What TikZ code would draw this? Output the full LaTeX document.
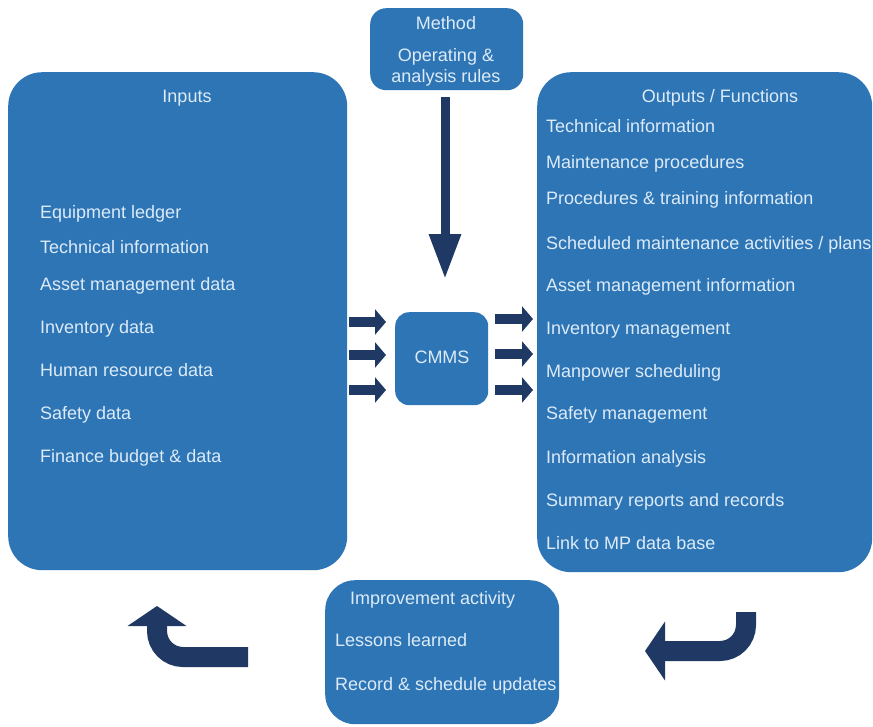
\documentclass[tikz,border=0pt]{standalone}
\usepackage{fontspec}
\setmainfont{Liberation Sans}
\usetikzlibrary{arrows.meta}
\definecolor{boxblue}{HTML}{2E75B6}
\definecolor{navy}{HTML}{1F3864}
\definecolor{txt}{HTML}{DCEBF7}
\begin{document}
\begin{tikzpicture}[x=1pt,y=-1pt,
  box/.style={fill=boxblue, draw=none, inner sep=0pt, anchor=north west},
  lbl/.style={text=txt, font=\fontsize{18}{20}\selectfont, inner sep=0pt, anchor=base west},
  ttl/.style={lbl, anchor=base},
  smallarrow/.style={draw=navy, line width=10pt, -{Triangle[length=11pt,width=25pt]}},
  bigarrow/.style={draw=navy, line width=20pt, rounded corners=26pt, -{Triangle[length=20pt,width=58pt]}},
  downarrow/.style={draw=navy, line width=9pt, -{Triangle[length=45pt,width=30pt]}}]
\useasboundingbox[fill=white] (0,0) rectangle (873,726);

% boxes
\node[box, rounded corners=34pt, minimum width=339pt, minimum height=498pt] (inputs) at (8,72) {};
\node[box, rounded corners=34pt, minimum width=335pt, minimum height=500pt] (outputs) at (537,72) {};
\node[box, rounded corners=16pt, minimum width=153pt, minimum height=82pt] (method) at (370,8) {};
\node[box, rounded corners=14pt, minimum width=93pt, minimum height=93pt] (cmms) at (395,312) {};
\node[box, rounded corners=30pt, minimum width=234pt, minimum height=144pt] (improve) at (325,580) {};

% inputs text
\node[ttl] (inT) at (187,102) {Inputs};
\node[lbl] (in1) at (40,218) {Equipment ledger};
\node[lbl] (in2) at (40,253) {Technical information};
\node[lbl] (in3) at (40,290) {Asset management data};
\node[lbl] (in4) at (40,333) {Inventory data};
\node[lbl] (in5) at (40,376) {Human resource data};
\node[lbl] (in6) at (40,419) {Safety data};
\node[lbl] (in7) at (40,462) {Finance budget \& data};

% outputs text
\node[ttl] (outT) at (720,102) {Outputs / Functions};
\node[lbl] (o1) at (546,132) {Technical information};
\node[lbl] (o2) at (546,168) {Maintenance procedures};
\node[lbl] (o3) at (546,204) {Procedures \& training information};
\node[lbl] (o4) at (546,249) {Scheduled maintenance activities / plans};
\node[lbl] (o5) at (546,291) {Asset management information};
\node[lbl] (o6) at (546,334) {Inventory management};
\node[lbl] (o7) at (546,377) {Manpower scheduling};
\node[lbl] (o8) at (546,419) {Safety management};
\node[lbl] (o9) at (546,463) {Information analysis};
\node[lbl] (o10) at (546,506) {Summary reports and records};
\node[lbl] (o11) at (546,549) {Link to MP data base};

% method text
\node[ttl] (m1) at (446,29) {Method};
\node[ttl] (m2) at (446,61) {Operating \&};
\node[ttl] (m3) at (446,82) {analysis rules};

% cmms text
\node[ttl] (c1) at (442,363) {CMMS};

% improvement text
\node[lbl] (i1) at (350,604) {Improvement activity};
\node[lbl] (i2) at (335,646) {Lessons learned};
\node[lbl] (i3) at (335,690) {Record \& schedule updates};

% arrow coordinates
\coordinate (dA) at (445,97);
\coordinate (dB) at (445,279);
\coordinate (l1a) at (349,322); \coordinate (l1b) at (386,322);
\coordinate (l2a) at (349,355); \coordinate (l2b) at (386,355);
\coordinate (l3a) at (349,390); \coordinate (l3b) at (386,390);
\coordinate (r1a) at (495,319); \coordinate (r1b) at (533,319);
\coordinate (r2a) at (495,354); \coordinate (r2b) at (533,354);
\coordinate (r3a) at (495,390); \coordinate (r3b) at (533,390);
\coordinate (blA) at (248,657); \coordinate (blC) at (157,657); \coordinate (blB) at (157,606);
\coordinate (brA) at (746,612); \coordinate (brC) at (746,651); \coordinate (brB) at (645,651);

% arrows
\draw[downarrow] (dA) -- (dB);
\foreach \i in {1,2,3} {
  \draw[smallarrow] (l\i a) -- (l\i b);
  \draw[smallarrow] (r\i a) -- (r\i b);
}
\draw[bigarrow] (blA) -- (blC) -- (blB);
\draw[bigarrow] (brA) -- (brC) -- (brB);
\end{tikzpicture}
\end{document}
